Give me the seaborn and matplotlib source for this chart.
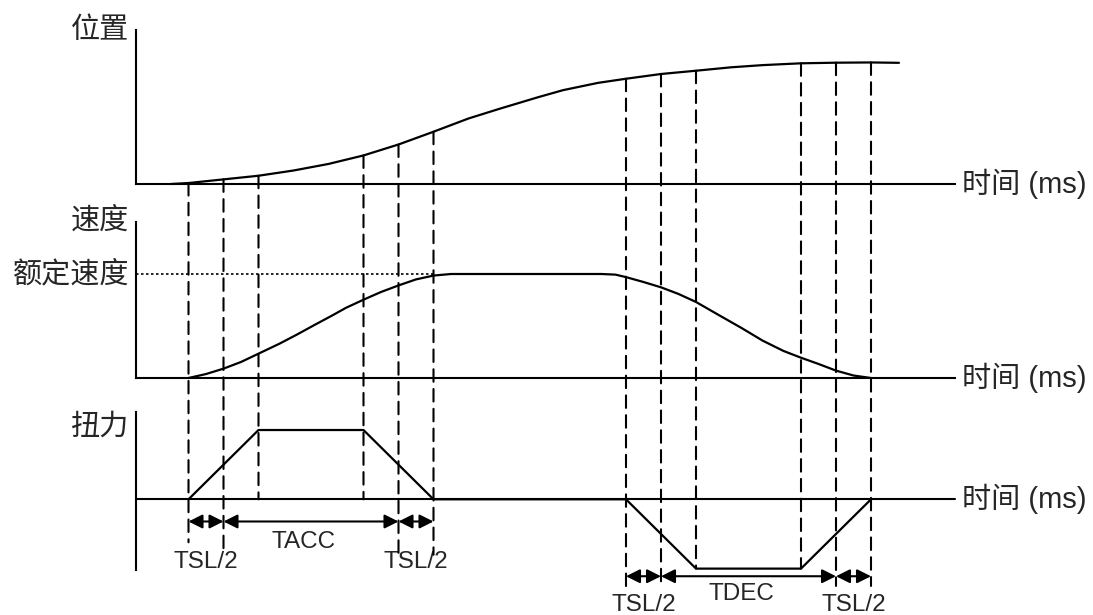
import numpy as np
import matplotlib
matplotlib.use('Agg')
import matplotlib.pyplot as plt
from matplotlib.patches import ConnectionPatch
import seaborn as sns

# --- values (time in ms, position in %, speed as fraction of rated, torque normalised)
pos_t = [-5, 0, 10, 20, 30, 40, 50, 60, 70, 80, 89, 100, 107, 117, 125, 135, 145, 155, 164, 175, 185, 195, 203]
pos_v = [0, 0.8, 3.8, 6.8, 11.1, 16.5, 23.5, 32.5, 43, 53.9, 62, 71.5, 77.2, 83.2, 86.6, 90.5, 93.2, 96, 97.8, 99.3, 99.8, 100, 99.7]

vel_t = [0, 5, 10, 15, 20, 26, 31, 36, 41, 45, 50, 55, 60, 65, 70, 75,
         118, 122, 125, 130, 135, 140, 145, 151, 158, 164, 170, 175, 180, 185, 190, 195]
vel_v = [0, 0.038, 0.09, 0.154, 0.234, 0.33, 0.418, 0.51, 0.6, 0.675, 0.753, 0.827, 0.89, 0.948, 0.985, 1.0,
         1.0, 0.994, 0.97, 0.923, 0.872, 0.808, 0.731, 0.615, 0.481, 0.36, 0.26, 0.195, 0.135, 0.071, 0.024, 0]

trq_t = [0, 20, 50, 70, 125, 145, 175, 195]
trq_v = [0, 1, 1, 0, 0, -1, -1, 0]

acc_marks = [0, 10, 20, 50, 60, 70]
dec_marks = [125, 135, 145, 175, 185, 195]
acc_ends = [-0.62, -0.8, 0, 0, -0.8, -0.8]
dec_ends = [-1.28, -1.28, -1, -1, -1.25, -1.25]

acc_spans = [(0, 10, 'TSL/2'), (10, 60, 'TACC'), (60, 70, 'TSL/2')]
dec_spans = [(125, 135, 'TSL/2'), (135, 185, 'TDEC'), (185, 195, 'TSL/2')]

rated = 1.0
t_min, t_max = -15, 219

sns.set_theme(style='white')
plt.rcParams['font.family'] = ['Liberation Sans', 'Noto Sans CJK SC']

fig = plt.figure(figsize=(10.93, 6.15), dpi=100)
W, H = 1093, 615
def rect(l, r, top, bot):
    return [l / W, 1 - bot / H, (r - l) / W, (bot - top) / H]

ax_pos = fig.add_axes(rect(136, 955, 30, 184))
ax_vel = fig.add_axes(rect(136, 955, 222, 378))
ax_trq = fig.add_axes(rect(136, 955, 412, 570))

for ax in (ax_pos, ax_vel, ax_trq):
    ax.set_xlim(t_min, t_max)
    ax.set_xticks([])
    ax.set_yticks([])
    ax.patch.set_alpha(0)
    for s in ('top', 'right'):
        ax.spines[s].set_visible(False)
    for s in ('left', 'bottom'):
        ax.spines[s].set_color('black')
        ax.spines[s].set_linewidth(1.5)

ax_pos.set_ylim(0, 126.7)
ax_vel.set_ylim(0, 1.5)
ax_trq.set_ylim(-1.02, 1.26)
ax_trq.spines['bottom'].set_visible(False)
ax_trq.axhline(0, color='black', lw=1.5)

lw = 1.6
sns.lineplot(x=pos_t, y=pos_v, ax=ax_pos, color='black', lw=lw)
sns.lineplot(x=vel_t, y=vel_v, ax=ax_vel, color='black', lw=lw)
sns.lineplot(x=trq_t, y=trq_v, ax=ax_trq, color='black', lw=lw)
for ax in (ax_pos, ax_vel, ax_trq):
    ax.set_xlabel('')
    ax.set_ylabel('')
    for ln in ax.lines:
        ln.set_clip_on(False)
        ln.set_solid_joinstyle('round')

# rated speed dotted line
ax_vel.plot([t_min, acc_marks[-1]], [rated, rated], color='black', lw=1.2, ls=(0, (1.5, 1.5)), clip_on=False)

# dashed guide lines from position curve down to torque panel
for t, end in list(zip(acc_marks, acc_ends)) + list(zip(dec_marks, dec_ends)):
    top = np.interp(t, pos_t, pos_v)
    con = ConnectionPatch(xyA=(t, top), coordsA='data', axesA=ax_pos,
                          xyB=(t, end), coordsB='data', axesB=ax_trq,
                          color='black', lw=1.5, linestyle=(0, (6, 3.5)))
    con.set_annotation_clip(False)
    fig.add_artist(con)

# span arrows and labels
fs_small = 17.5
def spans(ax, items, y_arrow, y_small, y_big):
    for t0, t1, lab in items:
        ax.annotate('', xy=(t1, y_arrow), xytext=(t0, y_arrow), annotation_clip=False,
                    arrowprops=dict(arrowstyle='<|-|>', color='black', lw=1.5,
                                    mutation_scale=21, shrinkA=0, shrinkB=0))
        if lab == 'TSL/2':
            ax.text((t0 + t1) / 2, y_small, lab, ha='center', va='center', fontsize=fs_small, clip_on=False)
        else:
            ax.text((t0 + t1) / 2 - 2, y_big, lab, ha='center', va='center', fontsize=fs_small, clip_on=False)

spans(ax_trq, acc_spans, -0.32, -0.91, -0.62)
spans(ax_trq, dec_spans, -1.11, -1.53, -1.36)

# axis titles
fs = 21
ax_pos.text(-0.0085, 1.0, '位置', transform=ax_pos.transAxes, ha='right', va='center', fontsize=fs)
ax_vel.text(-0.0085, 1.01, '速度', transform=ax_vel.transAxes, ha='right', va='center', fontsize=fs)
ax_vel.text(-0.0085, rated, '额定速度', transform=ax_vel.get_yaxis_transform(), ha='right', va='center', fontsize=fs)
ax_trq.text(-0.0085, 0.91, '扭力', transform=ax_trq.transAxes, ha='right', va='center', fontsize=fs)

for ax in (ax_pos, ax_vel, ax_trq):
    ax.text(1.0085, 0, '时间 (ms)', transform=ax.get_yaxis_transform(), ha='left', va='center', fontsize=fs)

fig.savefig('out.png', dpi=100, facecolor='white')
